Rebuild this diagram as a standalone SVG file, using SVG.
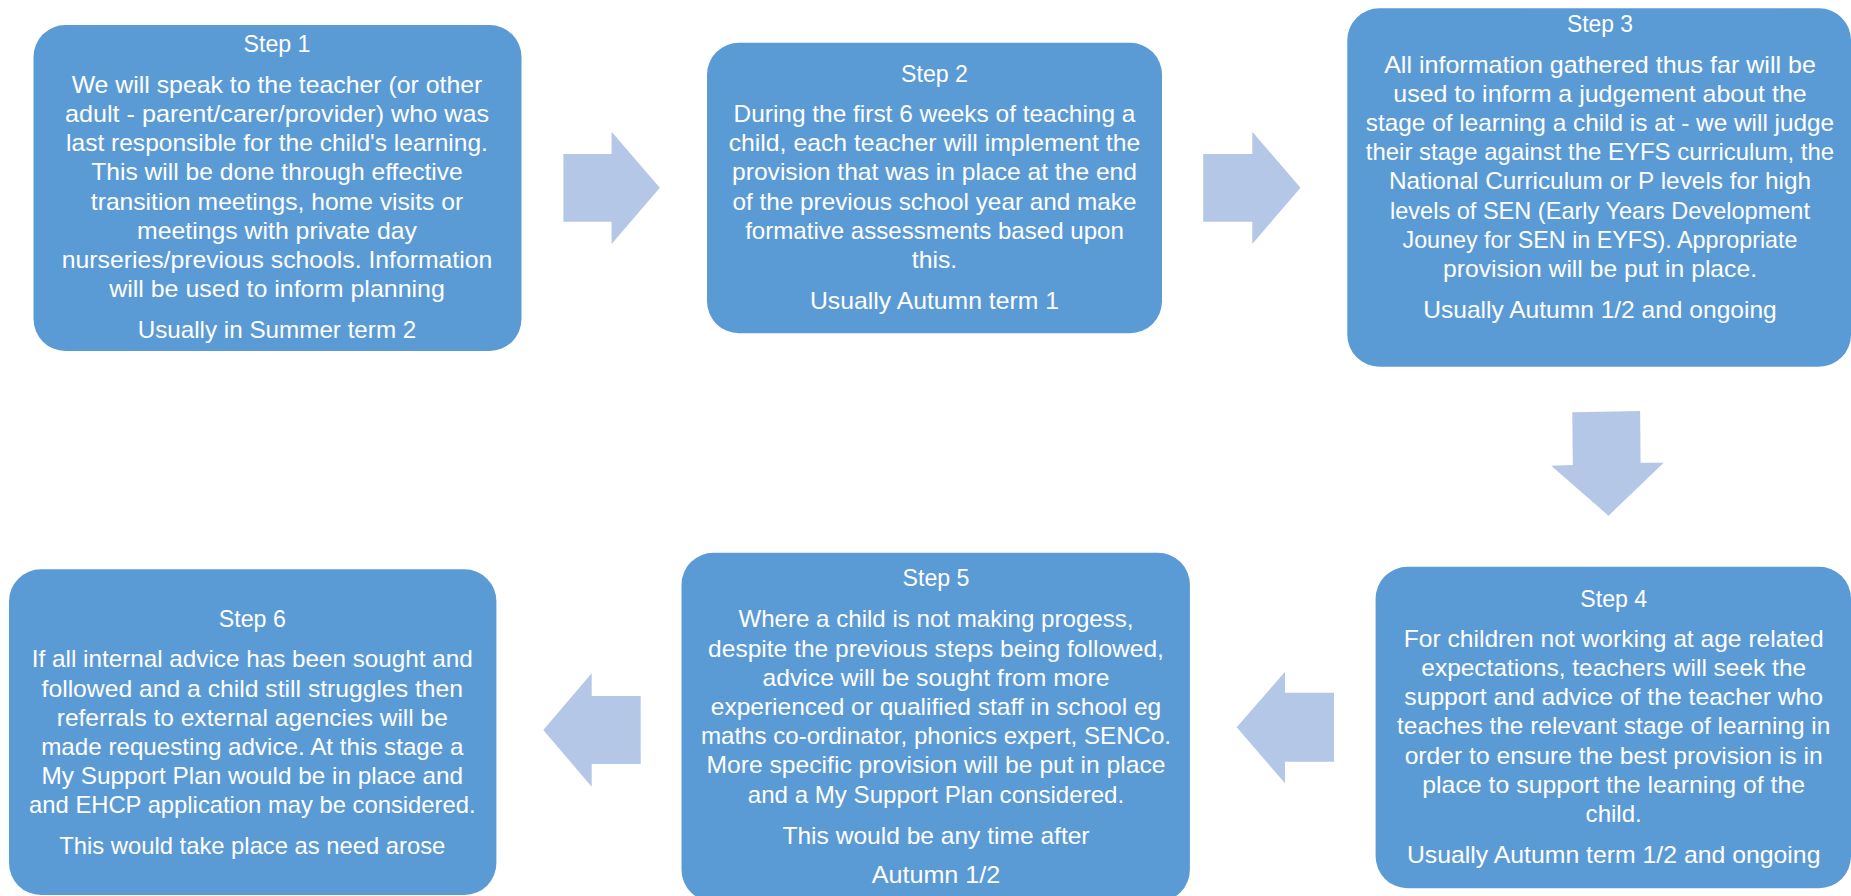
<svg xmlns="http://www.w3.org/2000/svg" width="1851" height="896" viewBox="0 0 1851 896">
<style>
.box{fill:#5B9BD5;}
.arrow{fill:#B4C7E7;}
text{font-family:"Liberation Sans",Arial,sans-serif;font-size:24px;fill:#ffffff;text-anchor:middle;}
</style>
<rect width="1851" height="896" fill="#ffffff"/>
<g id="connectors">
<polygon class="arrow" points="563.4,154 611.6,154 611.6,131.7 659.8,187.8 611.6,244 611.6,221.7 563.4,221.7"/>
<polygon class="arrow" points="1203.2,154 1252.3,154 1252.3,131.7 1300.5,187.8 1252.3,244 1252.3,221.7 1203.2,221.7"/>
<polygon class="arrow" points="1572.3,412.3 1640.1,411 1640.6,462.7 1663.7,462.7 1608.5,515.7 1551.2,465.7 1572.8,465"/>
<polygon class="arrow" points="1334,692.7 1285,692.7 1285,671.7 1236.7,727.3 1285,783.3 1285,761.7 1334,761.7"/>
<polygon class="arrow" points="640.7,696 591.7,696 591.7,673.3 543.3,730 591.7,786.7 591.7,764 640.7,764"/>
</g>
<g id="step1">
<rect class="box" x="33.5" y="25" width="488" height="326" rx="32"/>
<text x="277" y="51.7" textLength="67" lengthAdjust="spacingAndGlyphs">Step 1</text>
<text x="277" y="92.7" textLength="410.7" lengthAdjust="spacingAndGlyphs">We will speak to the teacher (or other</text>
<text x="277" y="121.9" textLength="424.1" lengthAdjust="spacingAndGlyphs">adult - parent/carer/provider) who was</text>
<text x="277" y="151.1" textLength="421.8" lengthAdjust="spacingAndGlyphs">last responsible for the child's learning.</text>
<text x="277" y="180.3" textLength="371.4" lengthAdjust="spacingAndGlyphs">This will be done through effective</text>
<text x="277" y="209.5" textLength="372.3" lengthAdjust="spacingAndGlyphs">transition meetings, home visits or</text>
<text x="277" y="238.7" textLength="279.9" lengthAdjust="spacingAndGlyphs">meetings with private day</text>
<text x="277" y="267.9" textLength="430.4" lengthAdjust="spacingAndGlyphs">nurseries/previous schools. Information</text>
<text x="277" y="297.1" textLength="335.7" lengthAdjust="spacingAndGlyphs">will be used to inform planning</text>
<text x="277" y="338" textLength="278.6" lengthAdjust="spacingAndGlyphs">Usually in Summer term 2</text>
</g>
<g id="step2">
<rect class="box" x="707" y="42.7" width="455" height="290.6" rx="32"/>
<text x="934.5" y="81.7" textLength="67" lengthAdjust="spacingAndGlyphs">Step 2</text>
<text x="934.5" y="121.7" textLength="401.8" lengthAdjust="spacingAndGlyphs">During the first 6 weeks of teaching a</text>
<text x="934.5" y="151" textLength="411.6" lengthAdjust="spacingAndGlyphs">child, each teacher will implement the</text>
<text x="934.5" y="180.3" textLength="405" lengthAdjust="spacingAndGlyphs">provision that was in place at the end</text>
<text x="934.5" y="209.5" textLength="404.1" lengthAdjust="spacingAndGlyphs">of the previous school year and make</text>
<text x="934.5" y="238.7" textLength="378.6" lengthAdjust="spacingAndGlyphs">formative assessments based upon</text>
<text x="934.5" y="268" textLength="45.5" lengthAdjust="spacingAndGlyphs">this.</text>
<text x="934.5" y="309.3" textLength="249.1" lengthAdjust="spacingAndGlyphs">Usually Autumn term 1</text>
</g>
<g id="step3">
<rect class="box" x="1347.3" y="8.3" width="503.7" height="358.4" rx="32"/>
<text x="1600" y="31.7" textLength="66" lengthAdjust="spacingAndGlyphs">Step 3</text>
<text x="1600" y="72.7" textLength="431.7" lengthAdjust="spacingAndGlyphs">All information gathered thus far will be</text>
<text x="1600" y="101.7" textLength="413.3" lengthAdjust="spacingAndGlyphs">used to inform a judgement about the</text>
<text x="1600" y="130.9" textLength="468.3" lengthAdjust="spacingAndGlyphs">stage of learning a child is at - we will judge</text>
<text x="1600" y="160.1" textLength="468.3" lengthAdjust="spacingAndGlyphs">their stage against the EYFS curriculum, the</text>
<text x="1600" y="189.3" textLength="422" lengthAdjust="spacingAndGlyphs">National Curriculum or P levels for high</text>
<text x="1600" y="218.5" textLength="420" lengthAdjust="spacingAndGlyphs">levels of SEN (Early Years Development</text>
<text x="1600" y="247.7" textLength="395" lengthAdjust="spacingAndGlyphs">Jouney for SEN in EYFS). Appropriate</text>
<text x="1600" y="276.9" textLength="314" lengthAdjust="spacingAndGlyphs">provision will be put in place.</text>
<text x="1600" y="318" textLength="353.4" lengthAdjust="spacingAndGlyphs">Usually Autumn 1/2 and ongoing</text>
</g>
<g id="step4">
<rect class="box" x="1375.6" y="566.7" width="475.4" height="321.6" rx="32"/>
<text x="1613.7" y="606.7" textLength="66.8" lengthAdjust="spacingAndGlyphs">Step 4</text>
<text x="1613.7" y="646.7" textLength="419.8" lengthAdjust="spacingAndGlyphs">For children not working at age related</text>
<text x="1613.7" y="675.9" textLength="384.8" lengthAdjust="spacingAndGlyphs">expectations, teachers will seek the</text>
<text x="1613.7" y="705.1" textLength="418.8" lengthAdjust="spacingAndGlyphs">support and advice of the teacher who</text>
<text x="1613.7" y="734.3" textLength="433.3" lengthAdjust="spacingAndGlyphs">teaches the relevant stage of learning in</text>
<text x="1613.7" y="763.5" textLength="418.1" lengthAdjust="spacingAndGlyphs">order to ensure the best provision is in</text>
<text x="1613.7" y="792.7" textLength="383" lengthAdjust="spacingAndGlyphs">place to support the learning of the</text>
<text x="1613.7" y="821.9" textLength="56.2" lengthAdjust="spacingAndGlyphs">child.</text>
<text x="1613.7" y="863" textLength="413.5" lengthAdjust="spacingAndGlyphs">Usually Autumn term 1/2 and ongoing</text>
</g>
<g id="step5">
<rect class="box" x="681.5" y="552.7" width="508.4" height="349" rx="32"/>
<text x="936" y="586" textLength="67" lengthAdjust="spacingAndGlyphs">Step 5</text>
<text x="936" y="627.3" textLength="395.1" lengthAdjust="spacingAndGlyphs">Where a child is not making progess,</text>
<text x="936" y="656.5" textLength="455.8" lengthAdjust="spacingAndGlyphs">despite the previous steps being followed,</text>
<text x="936" y="685.7" textLength="346.9" lengthAdjust="spacingAndGlyphs">advice will be sought from more</text>
<text x="936" y="714.9" textLength="450.5" lengthAdjust="spacingAndGlyphs">experienced or qualified staff in school eg</text>
<text x="936" y="744.1" textLength="470.1" lengthAdjust="spacingAndGlyphs">maths co-ordinator, phonics expert, SENCo.</text>
<text x="936" y="773.3" textLength="458.9" lengthAdjust="spacingAndGlyphs">More specific provision will be put in place</text>
<text x="936" y="802.5" textLength="376.4" lengthAdjust="spacingAndGlyphs">and a My Support Plan considered.</text>
<text x="936" y="843.7" textLength="307.1" lengthAdjust="spacingAndGlyphs">This would be any time after</text>
<text x="936" y="883.3" textLength="128.6" lengthAdjust="spacingAndGlyphs">Autumn 1/2</text>
</g>
<g id="step6">
<rect class="box" x="9" y="569.3" width="487.4" height="325.7" rx="32"/>
<text x="252.3" y="627.3" textLength="67" lengthAdjust="spacingAndGlyphs">Step 6</text>
<text x="252.3" y="667.3" textLength="441" lengthAdjust="spacingAndGlyphs">If all internal advice has been sought and</text>
<text x="252.3" y="696.5" textLength="421.5" lengthAdjust="spacingAndGlyphs">followed and a child still struggles then</text>
<text x="252.3" y="725.7" textLength="391.1" lengthAdjust="spacingAndGlyphs">referrals to external agencies will be</text>
<text x="252.3" y="754.9" textLength="422.3" lengthAdjust="spacingAndGlyphs">made requesting advice. At this stage a</text>
<text x="252.3" y="784.1" textLength="421.5" lengthAdjust="spacingAndGlyphs">My Support Plan would be in place and</text>
<text x="252.3" y="813.3" textLength="446.4" lengthAdjust="spacingAndGlyphs">and EHCP application may be considered.</text>
<text x="252.3" y="854" textLength="386.1" lengthAdjust="spacingAndGlyphs">This would take place as need arose</text>
</g>
</svg>
